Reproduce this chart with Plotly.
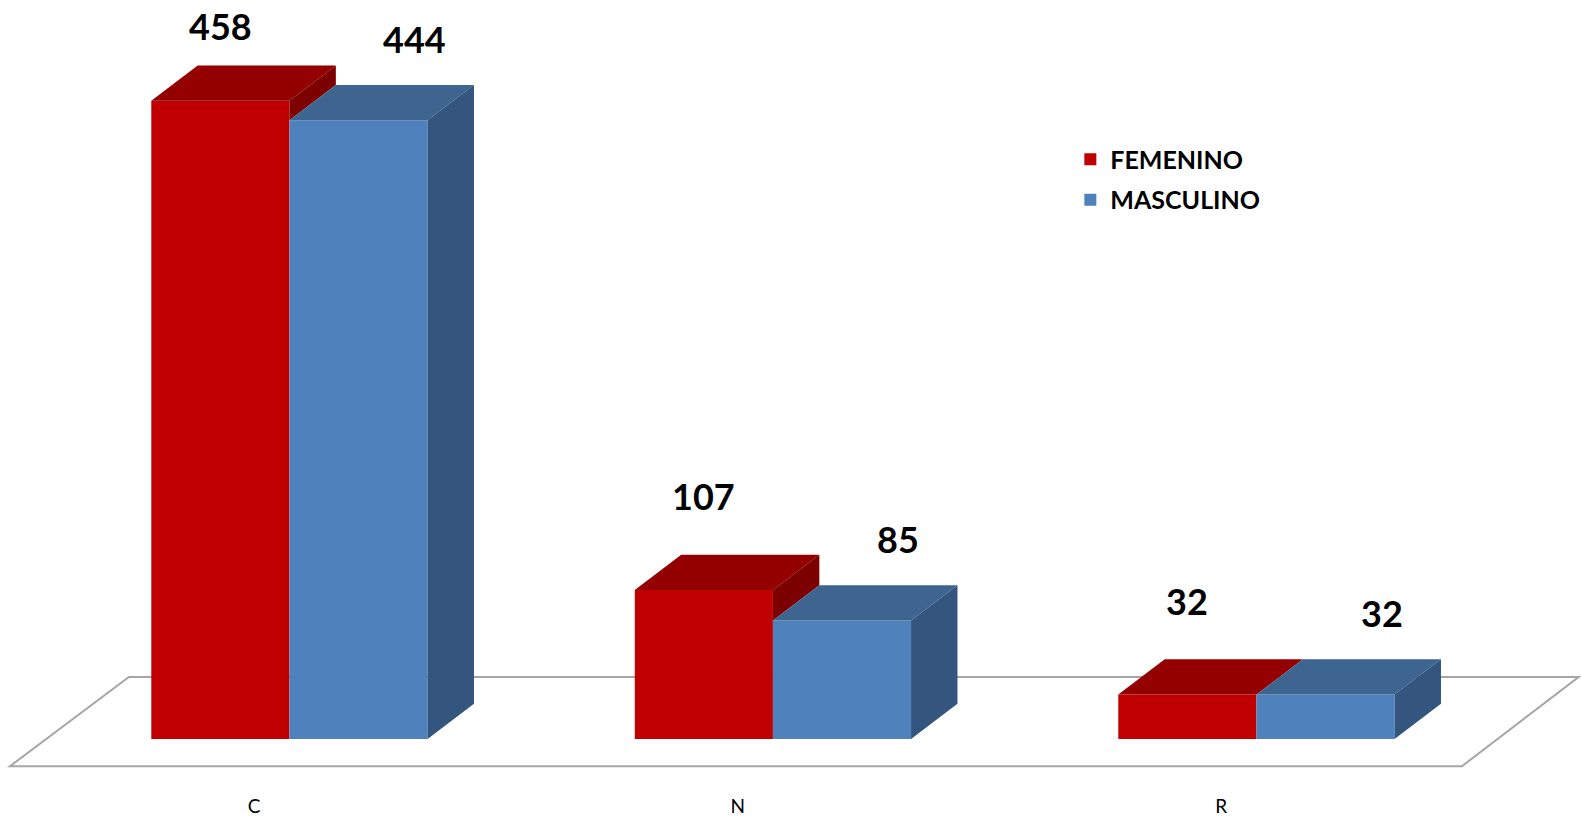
import plotly.graph_objects as go

# ---- data ----
categories = ["C", "N", "R"]
femenino = [458, 107, 32]
masculino = [444, 85, 32]
series_names = ["FEMENINO", "MASCULINO"]

# ---- style ----
FRONT = ["#C00000", "#4F81BD"]
TOP = ["#940000", "#3D6590"]
SIDE = ["#7D0000", "#33557E"]
BAR_W = 0.2857          # width of one bar in category units
DX = 0.096              # depth offset (x, category units)
DY = 25.3               # depth offset (y, value units)
LABEL_OFF = [42, 33]    # label gap above the back edge of the top face
LABEL_DX = [0.0, DX + 0.02]
TICK_SHIFT = -0.073     # perspective shift of category labels
Y_RANGE = [-38.7, 530.3]
X_RANGE = [-0.5986, 2.6713]
FONT = "Lato"

xpos = list(range(len(categories)))
values = [femenino, masculino]
offsets = [-BAR_W, 0.0]

fig = go.Figure()

# front faces (real bars)
for s in range(2):
    fig.add_trace(go.Bar(
        x=xpos, y=values[s], name=series_names[s],
        width=BAR_W, offset=offsets[s],
        marker=dict(color=FRONT[s], line=dict(width=0)),
        legendgroup=series_names[s], hoverinfo="skip",
    ))

# top and side faces computed from the data
for s in range(2):
    tx, ty, sx, sy = [], [], [], []
    for i, xc in enumerate(xpos):
        v = values[s][i]
        x0 = xc + offsets[s]
        x1 = x0 + BAR_W
        tx += [x0, x1, x1 + DX, x0 + DX, x0, None]
        ty += [v, v, v + DY, v + DY, v, None]
        base = 0
        if s == 0:
            base = min(v, masculino[i])  # part hidden behind the neighbour bar
        sx += [x1, x1 + DX, x1 + DX, x1, x1, None]
        sy += [base, base + DY, v + DY, v, base, None]
    fig.add_trace(go.Scatter(x=tx, y=ty, mode="lines", fill="toself",
                             fillcolor=TOP[s], line=dict(width=0),
                             showlegend=False, hoverinfo="skip"))
    fig.add_trace(go.Scatter(x=sx, y=sy, mode="lines", fill="toself",
                             fillcolor=SIDE[s], line=dict(width=0),
                             showlegend=False, hoverinfo="skip"))

# floor plane
fl_front_y, fl_back_y = -19.5, 44.6
fl_lf, fl_lb = xpos[0] - 0.578, xpos[0] - 0.332
fl_rb, fl_rf = xpos[-1] + 0.667, xpos[-1] + 0.425
fig.add_shape(type="path", xref="x", yref="y", layer="below",
              path=f"M {fl_lf},{fl_front_y} L {fl_lb},{fl_back_y} L {fl_rb},{fl_back_y} L {fl_rf},{fl_front_y} Z",
              line=dict(color="#A6A6A6", width=2), fillcolor="white")

# value labels
ycap = Y_RANGE[1] - 19
for s in range(2):
    for i, xc in enumerate(xpos):
        v = values[s][i]
        xl = xc + offsets[s] + BAR_W / 2 + LABEL_DX[s]
        yl = min(v + DY + LABEL_OFF[s], ycap)
        fig.add_annotation(x=xl, y=yl, text=str(v), showarrow=False,
                           font=dict(family=FONT, size=36, color="black", weight="bold"),
                           xanchor="center", yanchor="middle")

fig.update_layout(
    width=1581, height=823,
    margin=dict(l=0, r=0, t=0, b=30),
    paper_bgcolor="white", plot_bgcolor="white",
    barmode="overlay",
    showlegend=True,
    legend=dict(x=0.677, y=0.828, xanchor="left", yanchor="top",
                font=dict(family=FONT, size=25, color="black", weight="bold"),
                tracegroupgap=5, bgcolor="rgba(0,0,0,0)"),
    xaxis=dict(range=X_RANGE, tickvals=[x + TICK_SHIFT for x in xpos], ticktext=categories,
               showgrid=False, zeroline=False, showline=False, ticks="",
               tickfont=dict(family=FONT, size=19, color="black"), fixedrange=True),
    yaxis=dict(range=Y_RANGE, visible=False, fixedrange=True),
)

fig.write_html("out.html", config={"displayModeBar": False},
               post_script="document.body.style.margin='0';")
